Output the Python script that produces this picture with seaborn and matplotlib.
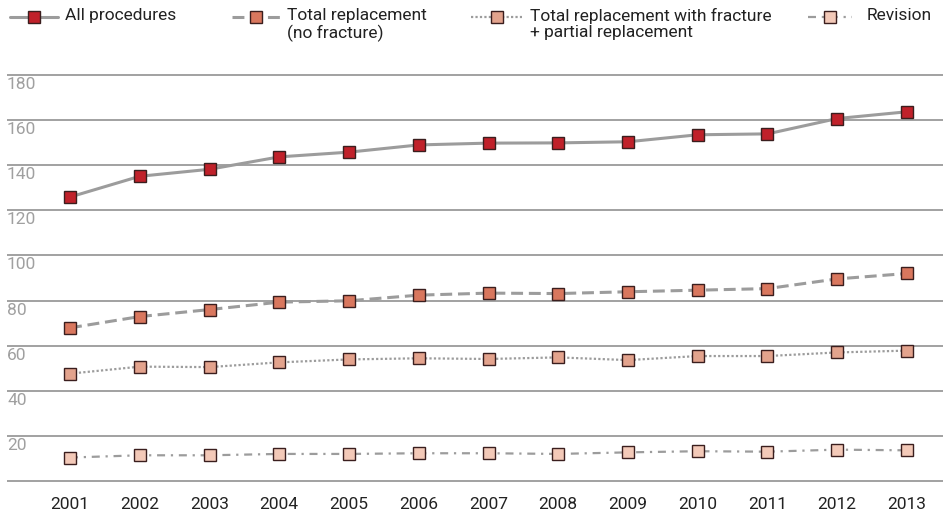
import matplotlib
matplotlib.use("Agg")
import matplotlib.pyplot as plt
from matplotlib.lines import Line2D
from matplotlib.transforms import ScaledTranslation
import seaborn as sns
import pandas as pd

years = [2001, 2002, 2003, 2004, 2005, 2006, 2007, 2008, 2009, 2010, 2011, 2012, 2013]
all_procedures = [125.9, 135.1, 138.2, 143.7, 145.8, 149.0, 149.8, 149.9, 150.4, 153.5, 153.9, 160.7, 163.7]
total_no_fracture = [67.9, 72.9, 76.0, 79.3, 79.9, 82.4, 83.3, 83.1, 83.9, 84.6, 85.3, 89.6, 92.0]
total_fracture_partial = [47.6, 50.7, 50.5, 52.6, 53.9, 54.4, 54.1, 54.8, 53.6, 55.4, 55.4, 57.0, 57.8]
revision = [10.4, 11.4, 11.4, 12.0, 12.0, 12.3, 12.3, 12.0, 12.7, 13.2, 13.0, 13.9, 13.6]

series_labels = ["All procedures", "Total replacement\n(no fracture)",
                 "Total replacement with fracture\n+ partial replacement", "Revision"]
y_ticks = [0, 20, 40, 60, 80, 100, 120, 140, 160, 180]
y_tick_labels = ["", "20", "40", "60", "80", "100", "120", "140", "160", "180"]

sns.set_style("white")
plt.rcParams["font.family"] = ["Roboto", "DejaVu Sans"]

W, H = 943, 515
fig = plt.figure(figsize=(W / 100, H / 100), dpi=100)

# axes placement in pixels
px_per_unit = (481 - 75) / 180
y_lo, y_hi = -1, 181
ax_bottom_px = 481 + 1 * px_per_unit
ax_top_px = 75 - 1 * px_per_unit
ax = fig.add_axes([7 / W, 1 - ax_bottom_px / H, 1 - 7 / W, (ax_bottom_px - ax_top_px) / H])

line_col = "#9c9c9c"
edge_col = "#3a1e1e"
styles = [
    dict(color=line_col, lw=2.2, ls="-", mfc="#C0212A"),
    dict(color=line_col, lw=2.2, ls=(0, (3.9, 1.9)), mfc="#D9775E"),
    dict(color=line_col, lw=1.6, ls=(0, (1, 1)), mfc="#E3A38D"),
    dict(color=line_col, lw=1.6, ls=(0, (3.6, 2.6, 1, 2.6)), mfc="#F3C9B8"),
]
data = [all_procedures, total_no_fracture, total_fracture_partial, revision]

for vals, st in zip(data, styles):
    df = pd.DataFrame({"year": years, "value": vals})
    sns.lineplot(data=df, x="year", y="value", ax=ax, color=st["color"],
                 linewidth=st["lw"], linestyle=st["ls"], marker="s", markersize=8,
                 markerfacecolor=st["mfc"], markeredgecolor=edge_col,
                 markeredgewidth=1.0, legend=False, errorbar=None)

ax.set_xlim(2001 - 63 / 69.75, 2013 + 36 / 69.75)
ax.set_ylim(y_lo, y_hi)
ax.set_xticks(years)
ax.set_xticklabels([str(y) for y in years])
ax.set_yticks(y_ticks)
ax.set_yticklabels(y_tick_labels)
ax.set_xlabel("")
ax.set_ylabel("")
for s in ax.spines.values():
    s.set_visible(False)
ax.grid(axis="y", color="#9a9a9a", linewidth=1.3)
ax.grid(axis="x", visible=False)
ax.set_axisbelow(True)
ax.tick_params(axis="x", length=0, pad=10, labelsize=12.5, labelcolor="#222222")
ax.tick_params(axis="y", length=0, pad=0, labelsize=12.5, labelcolor="#a0a0a0")
shift = ScaledTranslation(0, -2 / 100, fig.dpi_scale_trans)
for lab in ax.get_yticklabels():
    lab.set_horizontalalignment("left")
    lab.set_verticalalignment("top")
    lab.set_transform(lab.get_transform() + shift)

# legend drawn at top
legend_items = [
    (10, 58, 65),
    (232, 280, 287),
    (471, 522, 530),
    (808, 852, 867),
]
ly = 17
for (x0, x1, tx), st, lab in zip(legend_items, styles, series_labels):
    fig.add_artist(Line2D([x0 / W, x1 / W], [1 - ly / H, 1 - ly / H],
                          transform=fig.transFigure, color=st["color"],
                          linewidth=st["lw"], linestyle=st["ls"]))
    fig.add_artist(Line2D([(x0 + x1) / 2 / W], [1 - ly / H], transform=fig.transFigure,
                          marker="s", markersize=8, markerfacecolor=st["mfc"],
                          markeredgecolor=edge_col, markeredgewidth=1.0, linestyle="none"))
    fig.text(tx / W, 1 - 8 / H, lab, ha="left", va="top", fontsize=12.5,
             color="#222222", linespacing=1.12)

fig.savefig("out.png", dpi=100)
